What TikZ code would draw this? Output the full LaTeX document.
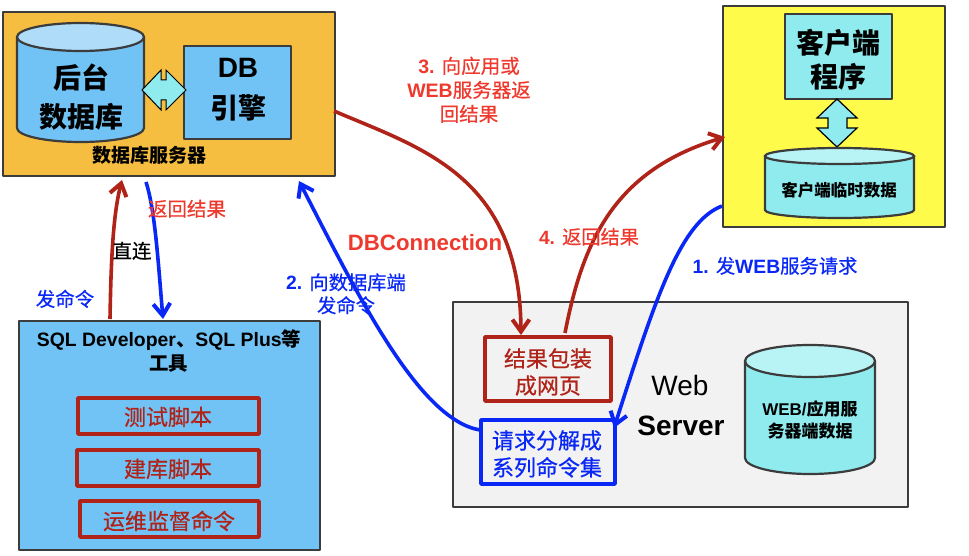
\documentclass[tikz,border=0pt]{standalone}
\usepackage{fontspec}
\setmainfont{Liberation Sans}
\newfontfamily\cjk{Noto Sans CJK SC}
\newfontfamily\cjkm[FakeBold=0.6]{Noto Sans CJK SC}
\usetikzlibrary{arrows.meta}
\definecolor{dbOrange}{HTML}{F6BE41}
\definecolor{skyBlue}{HTML}{72C3F5}
\definecolor{skyTop}{HTML}{AEDCF9}
\definecolor{aqua}{HTML}{8FEBEE}
\definecolor{aquaTop}{HTML}{B8F3F5}
\definecolor{clientY}{HTML}{FFFB4B}
\definecolor{paleGrey}{HTML}{F2F2F2}
\definecolor{edgeGrey}{HTML}{3C3C3C}
\definecolor{darkRed}{HTML}{B02318}
\definecolor{labelRed}{HTML}{EE3A2E}
\definecolor{pureBlue}{HTML}{0A28F5}
\newcommand{\C}[1]{{\cjkm\mdseries #1}}
\newcommand{\B}[1]{{\cjk\bfseries #1}}
\newcommand{\cyl}[7]{% x1,x2,ytop,ybot,ry,fill,topfill
  \draw[cyledge,fill=#6] (#1,#3) -- (#1,#4) arc[start angle=180,end angle=0,x radius={(#2-#1)/2},y radius=#5] -- (#2,#3);
  \draw[cyledge,fill=#7] ({(#1+#2)/2},#3) ellipse[x radius={(#2-#1)/2},y radius=#5];
}
\tikzset{
  x=1pt,y=-1pt,
  panel/.style={draw=edgeGrey,line width=2.4pt,line join=round,anchor=north west,inner sep=0pt,outer sep=0pt},
  cyledge/.style={draw=edgeGrey,line width=2.2pt},
  dblarrow/.style={draw=black,line width=1pt,fill=aqua,line join=miter},
  redbox/.style={draw=darkRed,line width=3.4pt,line join=round,anchor=north west,inner sep=0pt,outer sep=0pt},
  bluebox/.style={draw=pureBlue,line width=3.4pt,line join=round,anchor=north west,inner sep=0pt,outer sep=0pt},
  txt/.style={inner sep=0pt,align=center,text depth=0pt},
  redflow/.style={draw=darkRed,line width=3.6pt,-{Straight Barb[length=12pt,width=17pt,line width=4pt]}},
  blueflow/.style={draw=pureBlue,line width=3.6pt,-{Straight Barb[length=12pt,width=17pt,line width=4pt]}},
}
\begin{document}
\begin{tikzpicture}
\useasboundingbox (0,0) rectangle (969,556);
% database server
\node[panel,fill=dbOrange,minimum width=332pt,minimum height=164pt] (dbserver) at (3,12) {};
\cyl{17}{144}{37}{128}{14}{skyBlue}{skyTop}
\node[panel,fill=skyBlue,minimum width=107pt,minimum height=93pt] (engine) at (184,46) {};
\draw[dblarrow] (142,90) -- (161,70) -- (161,80) -- (166,80) -- (166,70) -- (186,90) -- (166,110) -- (166,100) -- (161,100) -- (161,110) -- cycle;
\node[txt,font=\cjk\bfseries\fontsize{28}{39}\selectfont] (dbtext) at (81,96) {后台\\数据库};
\node[txt,font=\bfseries\fontsize{28}{41}\selectfont] (engtext) at (238,88) {DB\\\B{引擎}};
\node[txt,font=\cjk\bfseries\fontsize{19}{24}\selectfont] (dbname) at (149,154) {数据库服务器};
% client
\node[panel,fill=clientY,minimum width=222pt,minimum height=221pt] (client) at (723,6) {};
\node[panel,fill=aqua,minimum width=107pt,minimum height=85pt] (prog) at (785,14) {};
\draw[dblarrow,line width=1.2pt] (837,99) -- (857,118) -- (847,118) -- (847,128) -- (857,128) -- (837,147) -- (817,128) -- (828,128) -- (828,118) -- (817,118) -- cycle;
\cyl{765}{914}{156}{210}{8}{aqua}{aquaTop}
\node[txt,font=\cjk\bfseries\fontsize{28}{34}\selectfont] (progtext) at (838,58) {客户端\\程序};
\node[txt,font=\cjk\bfseries\fontsize{16.5}{20}\selectfont] (cachetext) at (839,189) {客户端临时数据};
% web server
\node[panel,fill=paleGrey,minimum width=455pt,minimum height=205pt] (web) at (453,302) {};
\node[redbox,minimum width=126pt,minimum height=64pt] (pack) at (485,337) {};
\node[bluebox,fill=paleGrey,minimum width=134pt,minimum height=64pt] (split) at (481,420) {};
\node[txt,text=darkRed,font=\cjkm\fontsize{22}{27}\selectfont] (packtext) at (548,371) {结果包装\\成网页};
\node[txt,text=pureBlue,font=\cjkm\fontsize{22}{27}\selectfont] (splittext) at (547,453) {请求分解成\\系列命令集};
\cyl{745}{875}{361}{458}{16}{aqua}{aquaTop}
\node[txt,font=\cjk\bfseries\fontsize{17}{22}\selectfont] (webdata) at (810,419) {{\rmfamily\bfseries WEB/}应用服\\务器端数据};
\node[txt,font=\fontsize{28}{28}\selectfont] (webword) at (680,385) {Web};
\node[txt,font=\bfseries\fontsize{28}{28}\selectfont] (serverword) at (681,426) {Server};
% SQL tools
\node[panel,fill=skyBlue,minimum width=301pt,minimum height=229pt] (tools) at (19,321) {};
\node[txt,font=\bfseries\fontsize{19.4}{24}\selectfont] (toolstext) at (169,350) {SQL Developer\B{、}SQL Plus\B{等}\\\B{工具}};
\node[redbox,minimum width=181pt,minimum height=36pt] (s1) at (78,398) {};
\node[redbox,minimum width=182pt,minimum height=36pt] (s2) at (77,450) {};
\node[redbox,minimum width=179pt,minimum height=36pt] (s3) at (80,501) {};
\node[txt,text=darkRed,font=\cjkm\fontsize{22}{22}\selectfont] (s1t) at (168,416) {测试脚本};
\node[txt,text=darkRed,font=\cjkm\fontsize{22}{22}\selectfont] (s2t) at (168,468) {建库脚本};
\node[txt,text=darkRed,font=\cjkm\fontsize{22}{22}\selectfont] (s3t) at (169,520) {运维监督命令};
% connector ends
\coordinate (a1) at (110,319); \coordinate (a2) at (122,180);
\coordinate (b1) at (146,182); \coordinate (b2) at (163,319);
\coordinate (c1) at (334,111); \coordinate (c2) at (521,335);
\coordinate (d1) at (565,333); \coordinate (d2) at (725,137);
\coordinate (e1) at (722,206); \coordinate (e2) at (614,428);
\coordinate (f1) at (480,430); \coordinate (f2) at (299,181);
\draw[redflow] (a1) .. controls (111,260) and (113,215) .. (a2);
\draw[blueflow] (b1) .. controls (155,210) and (158,260) .. (b2);
\draw[redflow] (c1) .. controls (420,148) and (520,175) .. (c2);
\draw[redflow] (d1) .. controls (583,240) and (615,170) .. (d2);
\draw[blueflow] (e1) .. controls (680,222) and (655,300) .. (e2);
\draw[blueflow] (f1) .. controls (420,420) and (360,300) .. (f2);
% labels
\node[txt,text=labelRed,font=\bfseries\fontsize{19.5}{24}\selectfont] (l3) at (469,89) {3. \C{向应用或}\\WEB\C{服务器返}\\\C{回结果}};
\node[txt,text=labelRed,font=\bfseries\fontsize{19.2}{19}\selectfont] (l4) at (589,236) {4. \C{返回结果}};
\node[txt,text=labelRed,font=\bfseries\fontsize{22.2}{22}\selectfont] (ldbc) at (425,242) {DBConnection};
\node[txt,text=pureBlue,font=\bfseries\fontsize{19.3}{19}\selectfont] (l1) at (775,265) {1. \C{发}WEB\C{服务请求}};
\node[txt,text=pureBlue,font=\bfseries\fontsize{19.3}{23}\selectfont] (l2) at (346,293) {2. \C{向数据库端}\\\C{发命令}};
\node[txt,text=labelRed,font=\cjkm\fontsize{19.5}{19}\selectfont] (lback) at (187,208) {返回结果};
\node[txt,font=\cjkm\fontsize{19.5}{19}\selectfont] (ldirect) at (132,250) {直连};
\node[txt,text=pureBlue,font=\cjkm\fontsize{19.5}{19}\selectfont] (lsend) at (65,298) {发命令};
\end{tikzpicture}
\end{document}
